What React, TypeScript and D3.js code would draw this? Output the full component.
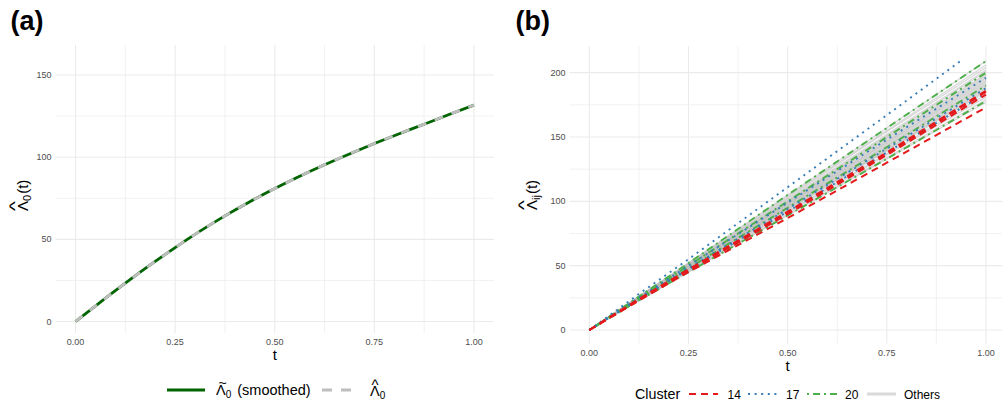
import React from "react";
import * as d3 from "d3";

const W = 1002;
const H = 404;
const FONT = "'Liberation Sans', Arial, Helvetica, sans-serif";

// ---------- Panel (a) data ----------
const TA = [0, 0.0625, 0.125, 0.1875, 0.25, 0.3125, 0.375, 0.4375, 0.5, 0.5625, 0.625, 0.6875, 0.75, 0.8125, 0.875, 0.9375, 1];
const LAMBDA0 = [0, 11.8, 23.3, 34.4, 45.0, 55.0, 64.3, 72.9, 80.9, 88.4, 95.4, 102.0, 108.3, 114.3, 120.1, 126.0, 131.7];
const X_TICKS = [0, 0.25, 0.5, 0.75, 1];
const X_LABELS = ["0.00", "0.25", "0.50", "0.75", "1.00"];
const X_MINOR = [0.125, 0.375, 0.625, 0.875];
const A_Y_TICKS = [0, 50, 100, 150];
const A_Y_MINOR = [25, 75, 125];

// ---------- Panel (b) data ----------
const TB = [0, 0.125, 0.25, 0.5, 0.75, 1];
const TB_SHORT = [0, 0.125, 0.25, 0.5, 0.75, 0.94];
const B_Y_TICKS = [0, 50, 100, 150, 200];
const B_Y_MINOR = [25, 75, 125, 175];

const OTHERS = [
  [0, 26, 52, 105, 157, 209],
  [0, 26, 52, 104, 155, 206],
  [0, 26, 51, 103, 154, 204],
  [0, 26, 51, 102, 152, 202],
  [0, 26, 51, 101, 151, 201],
  [0, 25, 50, 100, 150, 199],
  [0, 25, 50, 100, 149, 198],
  [0, 25, 50, 99, 148, 197],
  [0, 25, 50, 99, 147, 196],
  [0, 25, 49, 98, 146, 195],
  [0, 25, 49, 98, 146, 194],
  [0, 25, 49, 97, 145, 193],
  [0, 25, 49, 97, 144, 192],
  [0, 25, 48, 96, 143, 191],
  [0, 24, 48, 96, 143, 190],
  [0, 24, 48, 95, 142, 189],
  [0, 24, 48, 95, 141, 188],
  [0, 24, 47, 94, 140, 187],
  [0, 24, 47, 94, 140, 186],
  [0, 24, 47, 93, 139, 185],
  [0, 24, 46, 92, 137, 183],
  [0, 23, 46, 91, 136, 181],
  [0, 23, 45, 90, 134, 179],
  [0, 23, 45, 89, 133, 177],
];
const CLUSTER14 = [
  [0, 24, 47, 92, 138, 186],
  [0, 24, 47, 91, 137, 185],
  [0, 23, 46, 90, 136, 183],
  [0, 23, 45, 87, 130, 173],
];
const CLUSTER17_TOP = [0, 28, 55, 111, 167, 210];
const CLUSTER17 = [
  [0, 25, 50, 99, 148, 196],
  [0, 24, 48, 94, 141, 188],
  [0, 24, 47, 92, 138, 184],
];
const CLUSTER20 = [
  [0, 26, 52, 105, 157, 209],
  [0, 25, 50, 100, 150, 200],
  [0, 24, 48, 95, 142, 190],
  [0, 23, 45, 89, 133, 178],
];

const COL14 = "#E41A1C";
const COL17 = "#377EB8";
const COL20 = "#4DAF4A";
const DASH14 = "7 5";
const DASH17 = "2 4.6";
const DASH20 = "2 4 7 4";

// ---------- scales ----------
const xA = d3.scaleLinear().domain([-0.05, 1.05]).range([55.6, 493.9]);
const yA = d3.scaleLinear().domain([-7, 168.3]).range([333, 45]);
const xB = d3.scaleLinear().domain([-0.05, 1.05]).range([569.5, 1005.8]);
const yB = d3.scaleLinear().domain([-10.5, 220.5]).range([343.5, 46.3]);

function Grid({ x, y, yTicks, yMinor }: any) {
  const [x0, x1] = x.range();
  const [y0, y1] = y.range();
  return (
    <g>
      {yMinor.map((v: number) => (
        <line key={"ym" + v} x1={x0} x2={x1} y1={y(v)} y2={y(v)} stroke="#EBEBEB" strokeWidth={0.7} />
      ))}
      {X_MINOR.map((v) => (
        <line key={"xm" + v} x1={x(v)} x2={x(v)} y1={y0} y2={y1} stroke="#EBEBEB" strokeWidth={0.7} />
      ))}
      {yTicks.map((v: number) => (
        <line key={"y" + v} x1={x0} x2={x1} y1={y(v)} y2={y(v)} stroke="#EBEBEB" strokeWidth={1.1} />
      ))}
      {X_TICKS.map((v) => (
        <line key={"x" + v} x1={x(v)} x2={x(v)} y1={y0} y2={y1} stroke="#EBEBEB" strokeWidth={1.1} />
      ))}
      {yTicks.map((v: number) => (
        <text key={"yl" + v} x={x0 - 4} y={y(v)} dy="0.34em" textAnchor="end" fontSize={9} fill="#4D4D4D">
          {v}
        </text>
      ))}
      {X_TICKS.map((v, i) => (
        <text key={"xl" + v} x={x(v)} y={y0 + 12} textAnchor="middle" fontSize={9} fill="#4D4D4D">
          {X_LABELS[i]}
        </text>
      ))}
      <text x={(x(0) + x(1)) / 2} y={y0 + 27} textAnchor="middle" fontSize={15} fill="#000">
        t
      </text>
    </g>
  );
}

export default function App() {
  const lineA = d3
    .line<number>()
    .x((_, i) => xA(TA[i]))
    .y((d) => yA(d))
    .curve(d3.curveMonotoneX);
  const lineB = (ts: number[]) =>
    d3
      .line<number>()
      .x((_, i) => xB(ts[i]))
      .y((d) => yB(d));
  const lb = lineB(TB);
  const lbShort = lineB(TB_SHORT);

  return (
    <svg width={W} height={H} style={{ display: "block", position: "absolute", left: 0, top: 0 }} fontFamily={FONT}>
      <rect width={W} height={H} fill="#fff" />
      {/* Titles */}
      <text x={10.5} y={30} fontSize={27} fontWeight="bold">(a)</text>
      <text x={515.5} y={30} fontSize={27} fontWeight="bold">(b)</text>

      {/* ---------- Panel (a) ---------- */}
      <Grid x={xA} y={yA} yTicks={A_Y_TICKS} yMinor={A_Y_MINOR} />
      <path d={lineA(LAMBDA0) || ""} fill="none" stroke="#006400" strokeWidth={2.8} />
      <path d={lineA(LAMBDA0) || ""} fill="none" stroke="#BEBEBE" strokeWidth={2.8} strokeDasharray="9 9" />
      {/* y title (a) */}
      <g transform="translate(27.5,211) rotate(-90)">
        <text x={0} y={0} fontSize={15}>
          Λ<tspan fontSize={11} dy={3}>0</tspan>
          <tspan dy={-3} dx={1}>(t)</tspan>
        </text>
        <text x={5} y={-8} fontSize={15} textAnchor="middle" transform="translate(5,-8) scale(1.4,1) translate(-5,8)">^</text>
      </g>
      {/* legend (a) */}
      <line x1={167} x2={205} y1={390} y2={390} stroke="#006400" strokeWidth={3} />
      <text x={216} y={395} fontSize={14.5}>
        Λ<tspan fontSize={10} dy={3}>0</tspan>
        <tspan dy={-3} dx={6}>(smoothed)</tspan>
      </text>
      <text x={222.5} y={388} fontSize={14} textAnchor="middle">~</text>
      <line x1={322} x2={355} y1={390} y2={390} stroke="#BEBEBE" strokeWidth={3} strokeDasharray="10 9" />
      <text x={370} y={396} fontSize={14.5}>
        Λ<tspan fontSize={10} dy={3}>0</tspan>
      </text>
      <text x={375} y={390} fontSize={15} textAnchor="middle">^</text>

      {/* ---------- Panel (b) ---------- */}
      <Grid x={xB} y={yB} yTicks={B_Y_TICKS} yMinor={B_Y_MINOR} />
      {OTHERS.map((s, i) => (
        <path key={"o" + i} d={lb(s) || ""} fill="none" stroke="#BDBDBD" strokeOpacity={0.6} strokeWidth={1.2} />
      ))}
      {CLUSTER20.map((s, i) => (
        <path key={"g" + i} d={lb(s) || ""} fill="none" stroke={COL20} strokeWidth={1.9} strokeDasharray={DASH20} />
      ))}
      {CLUSTER17.map((s, i) => (
        <path key={"b" + i} d={lb(s) || ""} fill="none" stroke={COL17} strokeWidth={1.9} strokeDasharray={DASH17} />
      ))}
      <path d={lbShort(CLUSTER17_TOP) || ""} fill="none" stroke={COL17} strokeWidth={1.9} strokeDasharray={DASH17} />
      {CLUSTER14.map((s, i) => (
        <path key={"r" + i} d={lb(s) || ""} fill="none" stroke={COL14} strokeWidth={2} strokeDasharray={DASH14} />
      ))}
      {/* y title (b) */}
      <g transform="translate(537,210) rotate(-90)">
        <text x={0} y={0} fontSize={15}>
          Λ<tspan fontSize={11} dy={3}>ij</tspan>
          <tspan dy={-3} dx={1}>(t)</tspan>
        </text>
        <text x={5} y={-8} fontSize={15} textAnchor="middle" transform="translate(5,-8) scale(1.4,1) translate(-5,8)">^</text>
      </g>
      {/* legend (b) */}
      <text x={635} y={398.5} fontSize={14.3}>Cluster</text>
      <line x1={689} x2={718} y1={394} y2={394} stroke={COL14} strokeWidth={2} strokeDasharray={DASH14} />
      <text x={727.5} y={398.5} fontSize={12}>14</text>
      <line x1={748} x2={777} y1={394} y2={394} stroke={COL17} strokeWidth={2} strokeDasharray={DASH17} />
      <text x={786} y={398.5} fontSize={12}>17</text>
      <line x1={807} x2={837} y1={394} y2={394} stroke={COL20} strokeWidth={2} strokeDasharray={DASH20} />
      <text x={845} y={398.5} fontSize={12}>20</text>
      <line x1={867} x2={896} y1={394} y2={394} stroke="#D9D9D9" strokeWidth={3} />
      <text x={904} y={398.5} fontSize={12}>Others</text>
    </svg>
  );
}
